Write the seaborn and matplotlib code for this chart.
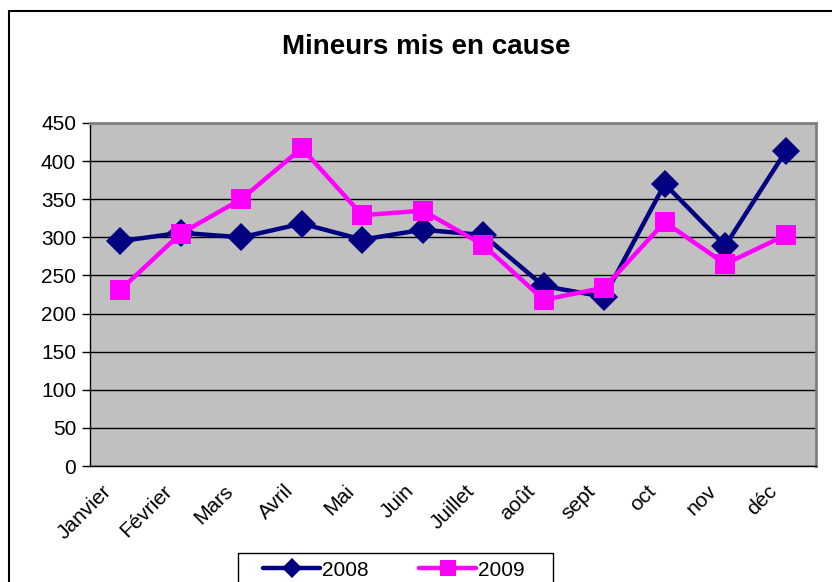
import pandas as pd
import matplotlib
matplotlib.use("Agg")
import matplotlib.pyplot as plt
import matplotlib.patches as mpatches
import seaborn as sns

# Data
months = ["Janvier", "Février", "Mars", "Avril", "Mai", "Juin",
          "Juillet", "août", "sept", "oct", "nov", "déc"]
values_2008 = [295, 306, 300, 318, 297, 310, 303, 236, 222, 370, 289, 413]
values_2009 = [231, 305, 350, 417, 329, 335, 290, 218, 234, 320, 265, 303]
y_ticks = [0, 50, 100, 150, 200, 250, 300, 350, 400, 450]

df = pd.DataFrame({
    "pos": list(range(len(months))) * 2,
    "value": values_2008 + values_2009,
    "year": ["2008"] * len(months) + ["2009"] * len(months),
})

sns.set_style("white")
plt.rcParams["font.family"] = ["Liberation Sans", "DejaVu Sans"]
plt.rcParams["text.color"] = "black"
plt.rcParams["xtick.color"] = "black"
plt.rcParams["ytick.color"] = "black"

fig = plt.figure(figsize=(8.32, 5.82), dpi=100)
ax = fig.add_axes([90 / 832, 1 - 466 / 582, (816 - 90) / 832, (466 - 123) / 582])
ax.set_facecolor("#C0C0C0")

palette = {"2008": "#000080", "2009": "#FF00FF"}
markers = {"2008": "D", "2009": "s"}
sns.lineplot(data=df, x="pos", y="value", hue="year", style="year",
             palette=palette, markers=markers, dashes=False, linewidth=3.2,
             markersize=14, markeredgewidth=0, ax=ax, legend=False, zorder=3)

ax.set_xlim(-0.5, len(months) - 0.5)
ax.set_ylim(0, 450)
ax.set_yticks(y_ticks)
ax.set_yticklabels([str(t) for t in y_ticks], fontsize=15)
ax.yaxis.grid(True, color="black", linewidth=1)
ax.set_axisbelow(True)

# labels sit a little left of each category centre, as in the original
ax.set_xticks([i - 0.3 for i in range(len(months))])
ax.set_xticklabels(months, rotation=45, ha="right", rotation_mode="anchor",
                   fontsize=15)
ax.set_xticks([i - 0.5 for i in range(len(months) + 1)], minor=True)
ax.tick_params(axis="x", which="major", length=0, pad=11)
ax.tick_params(axis="x", which="minor", length=6, width=1, color="black",
               direction="out")
ax.tick_params(axis="y", length=6, width=1, color="black", direction="out",
               pad=4, left=True)
ax.set_xlabel("")
ax.set_ylabel("")

for side in ["top", "right"]:
    ax.spines[side].set_color("#808080")
    ax.spines[side].set_linewidth(2)
for side in ["left", "bottom"]:
    ax.spines[side].set_color("black")
    ax.spines[side].set_linewidth(1)

fig.text(426 / 832, 1 - 47 / 582, "Mineurs mis en cause", ha="center",
         va="center", fontsize=20, fontweight="bold", color="black")

# outer chart border
fig.patches.append(mpatches.Rectangle((9 / 832, -0.1), 1.0, 1.1 - 11 / 582,
                                      transform=fig.transFigure, fill=False,
                                      edgecolor="black", linewidth=1.5))

# legend box (drawn separately so the horizontal padding matches)
fig.patches.append(mpatches.Rectangle((238 / 832, -0.1), (553 - 238) / 832,
                                      0.1 + (582 - 553) / 582,
                                      transform=fig.transFigure, fill=True,
                                      facecolor="white", edgecolor="black",
                                      linewidth=1))

handles = [
    plt.Line2D([], [], color=palette["2008"], marker="D", linewidth=3.2,
               markersize=10, markeredgewidth=0),
    plt.Line2D([], [], color=palette["2009"], marker="s", linewidth=3.2,
               markersize=11, markeredgewidth=0),
]
leg = fig.legend(handles, ["2008", "2009"], loc="center left",
                 bbox_to_anchor=(263 / 832, 1 - 570 / 582), ncol=2,
                 fontsize=15, frameon=False, handlelength=2.75,
                 handletextpad=0.1, columnspacing=2.4, borderpad=0,
                 borderaxespad=0)

fig.savefig("out.png", dpi=100)
